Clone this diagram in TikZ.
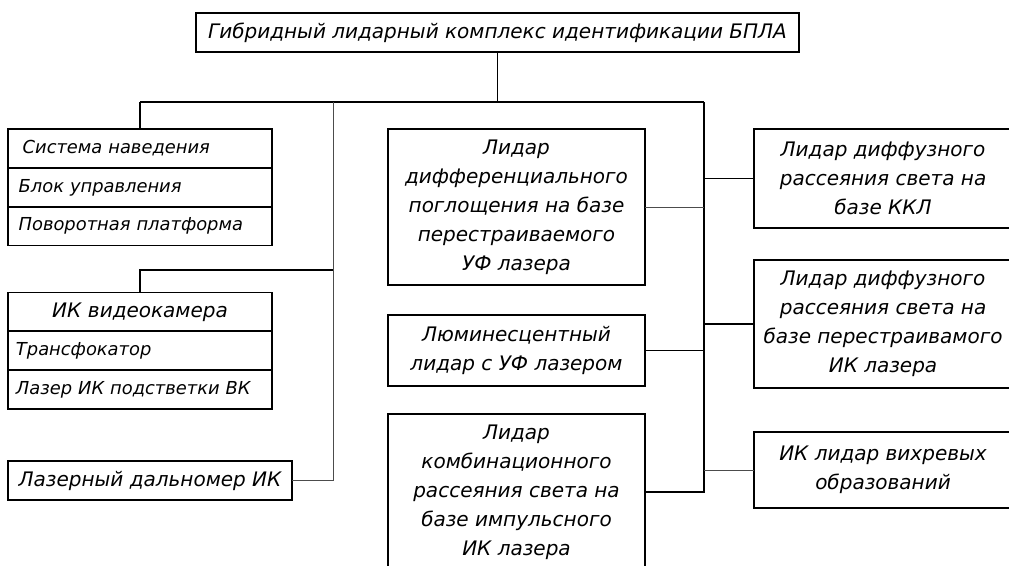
\documentclass[tikz,border=0pt]{standalone}
\usepackage{fontspec}
\setmainfont{DejaVu Sans}
\newcommand\bigfont{\fontsize{15}{21.75}\selectfont\itshape}
\newcommand\smallfont{\fontsize{13.4}{15}\selectfont\itshape}
\tikzset{every picture/.style={line width=1.1pt}}
\tikzset{
  blk/.style={draw, inner sep=0pt, outer sep=0pt, align=center, font=\bigfont},
  row/.style={draw, inner xsep=6pt, inner ysep=0pt, outer sep=0pt, minimum height=29.25pt, text width=186pt, align=left, font=\smallfont},
  thinwire/.style={line width=0.7pt, black!70}
}
\begin{document}
\begin{tikzpicture}[x=0.75pt,y=0.75pt,yscale=-1,xscale=1]
\useasboundingbox (0,0) rectangle (1009,565);
\clip (0,0) rectangle (1009,565);

% Title
\node[blk, minimum width=452.25pt, minimum height=29.25pt] (title) at (497.5,32.5) {Гибридный лидарный комплекс идентификации БПЛА};

% Guidance block
\node[row] (sys1) at (140,148.5) {\hspace{5pt}Система наведения};
\node[row] (sys2) at (140,187.5) {\hspace{2pt}Блок управления};
\node[row] (sys3) at (140,226) {\hspace{2pt}Поворотная платформа};

% IR camera block
\node[row, align=center, font=\bigfont] (cam1) at (140,312) {ИК видеокамера};
\node[row] (cam2) at (140,350.5) {Трансфокатор};
\node[row] (cam3) at (140,389.5) {Лазер ИК подстветки ВК};

% Range finder
\node[blk, minimum width=213pt, minimum height=29.25pt] (rng) at (150,480.5) {Лазерный дальномер ИК};

% Middle column
\node[blk, minimum width=192.75pt, minimum height=117pt] (dial) at (516.5,207) {Лидар\\дифференциального\\поглощения на базе\\перестраиваемого\\УФ лазера};
\node[blk, minimum width=192.75pt, minimum height=53.25pt] (lum) at (516.5,350.5) {Люминесцентный\\лидар с УФ лазером};
\node[blk, minimum width=192.75pt, minimum height=117pt] (raman) at (516.5,492) {Лидар\\комбинационного\\рассеяния света на\\базе импульсного\\ИК лазера};

% Right column
\node[blk, minimum width=193.5pt, minimum height=74.25pt] (qcl) at (883,178.5) {Лидар диффузного\\рассеяния света на\\базе ККЛ};
\node[blk, minimum width=193.5pt, minimum height=96pt] (irdif) at (883,324) {Лидар диффузного\\рассеяния света на\\базе перестраивамого\\ИК лазера};
\node[blk, minimum width=193.5pt, minimum height=57pt] (vortex) at (883,470) {ИК лидар вихревых\\образований};

% Bus
\coordinate (busL) at (140,102);
\coordinate (busM) at (333,102);
\coordinate (busR) at (704,102);
\coordinate (camJ) at (333,270);

\draw (title.south) -- (title.south |- busL);
\draw (busL) -- (busR);
\draw (busL) -- (sys1.north);
\draw[thinwire] (busM) |- (rng.east);
\draw (camJ) -| (cam1.north);
\draw (busR) |- (raman.east);
\draw[thinwire] (dial.east) -- (dial.east -| busR);
\draw (lum.east) -- (lum.east -| busR);
\draw (qcl.west) -- (qcl.west -| busR);
\draw (irdif.west) -- (irdif.west -| busR);
\draw[thinwire] (vortex.west) -- (vortex.west -| busR);

\end{tikzpicture}
\end{document}
